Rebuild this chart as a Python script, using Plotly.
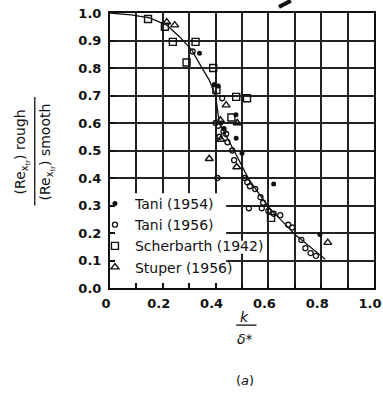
import plotly.graph_objects as go

# ---- data ----
curve_x = [0.0, 0.08, 0.15, 0.215, 0.264, 0.31, 0.346, 0.376, 0.40, 0.414, 0.464, 0.50, 0.526, 0.60, 0.70, 0.74, 0.815]
curve_y = [1.0, 0.993, 0.982, 0.956, 0.913, 0.865, 0.804, 0.756, 0.70, 0.60, 0.51, 0.44, 0.395, 0.295, 0.195, 0.164, 0.105]

tani54_x = [0.339, 0.395, 0.41, 0.477, 0.478, 0.50, 0.62, 0.795, 0.42, 0.432]
tani54_y = [0.854, 0.74, 0.735, 0.63, 0.545, 0.49, 0.378, 0.195, 0.60, 0.58]

tani56_x = [0.313, 0.425, 0.40, 0.41, 0.43, 0.44, 0.415, 0.445, 0.463, 0.47, 0.407, 0.51, 0.52,
            0.53, 0.55, 0.57, 0.58, 0.526, 0.575, 0.645, 0.675, 0.69, 0.725, 0.74, 0.76, 0.78, 0.60, 0.62]
tani56_y = [0.86, 0.69, 0.60, 0.59, 0.57, 0.56, 0.55, 0.53, 0.50, 0.465, 0.40, 0.40, 0.385,
            0.37, 0.36, 0.33, 0.31, 0.29, 0.29, 0.265, 0.23, 0.22, 0.175, 0.145, 0.127, 0.117, 0.28, 0.27]

scher_x = [0.144, 0.208, 0.238, 0.324, 0.29, 0.391, 0.403, 0.478, 0.519, 0.61, 0.46]
scher_y = [0.978, 0.95, 0.895, 0.895, 0.82, 0.80, 0.72, 0.695, 0.69, 0.255, 0.62]

stuper_x = [0.215, 0.245, 0.44, 0.482, 0.42, 0.376, 0.48, 0.825, 0.418]
stuper_y = [0.967, 0.956, 0.665, 0.60, 0.54, 0.47, 0.44, 0.165, 0.61]

x_ticks = [0, 0.2, 0.4, 0.6, 0.8, 1.0]
x_tick_text = ["0", "0.2", "0.4", "0.6", "0.8", "1.0"]
y_ticks = [0.0, 0.1, 0.2, 0.3, 0.4, 0.5, 0.6, 0.7, 0.8, 0.9, 1.0]

FONT = "DejaVu Sans"
INK = "#111111"
GRID = "#222222"

fig = go.Figure()
fig.add_trace(go.Scatter(x=curve_x, y=curve_y, mode="lines",
                         line=dict(color=INK, width=1.3), showlegend=False, hoverinfo="skip"))
fig.add_trace(go.Scatter(x=tani54_x, y=tani54_y, mode="markers", name="Tani (1954)",
                         marker=dict(symbol="circle", size=5, color=INK)))
fig.add_trace(go.Scatter(x=tani56_x, y=tani56_y, mode="markers", name="Tani (1956)",
                         marker=dict(symbol="circle-open", size=5, color=INK, line=dict(width=1.3))))
fig.add_trace(go.Scatter(x=scher_x, y=scher_y, mode="markers", name="Scherbarth (1942)",
                         marker=dict(symbol="square-open", size=7, color=INK, line=dict(width=1.4))))
fig.add_trace(go.Scatter(x=stuper_x, y=stuper_y, mode="markers", name="Stuper (1956)",
                         marker=dict(symbol="triangle-up-open", size=7, color=INK, line=dict(width=1.4))))

tick_font = dict(family=FONT, size=13, color=INK, weight="bold")
axis_common = dict(showline=True, linecolor=INK, linewidth=2, mirror=True,
                   showgrid=True, gridcolor=GRID, gridwidth=1.5,
                   ticks="inside", ticklen=5, tickcolor=INK, tickwidth=1.5,
                   zeroline=False, tickfont=tick_font, automargin=False)

fig.update_xaxes(range=[0, 1.0], tickvals=x_ticks, ticktext=x_tick_text,
                 minor=dict(dtick=0.1, showgrid=True, gridcolor=GRID, gridwidth=1.5,
                            ticks="inside", ticklen=5, tickcolor=INK),
                 ticklabelstandoff=2, ticklabelshift=-4, ticklabeloverflow="allow",
                 **axis_common)
fig.update_yaxes(range=[0, 1.0], tickvals=y_ticks, tickformat=".1f",
                 ticklabelstandoff=4, **axis_common)

ann_font = dict(family=FONT, size=14, color=INK)
annotations = [
    dict(text="(Re<sub>x<sub>tr</sub></sub>) rough", x=-0.335, y=0.495, textangle=-90),
    dict(text="(Re<sub>x<sub>tr</sub></sub>) smooth", x=-0.24, y=0.495, textangle=-90),
    dict(text="<i>k</i>", x=0.51, y=-0.105),
    dict(text="<i>δ</i>*", x=0.51, y=-0.185),
    dict(text="(<i>a</i>)", x=0.51, y=-0.335, font=dict(family=FONT, size=13, color=INK)),
]
for a in annotations:
    a.setdefault("font", ann_font)
    a.update(xref="paper", yref="paper", showarrow=False, xanchor="center", yanchor="middle")

shapes = [
    # white patches that hide the grid behind the legend (drawn between grid and data)
    dict(type="rect", xref="x", yref="y", x0=0, x1=0.44, y0=0, y1=0.345, layer="between",
         fillcolor="white", line=dict(width=0)),
    dict(type="rect", xref="x", yref="y", x0=0.44, x1=0.57, y0=0.125, y1=0.172, layer="between",
         fillcolor="white", line=dict(width=0)),
    dict(type="line", xref="paper", yref="paper", x0=-0.285, x1=-0.285, y0=0.30, y1=0.695,
         line=dict(color=INK, width=1.3)),
    dict(type="line", xref="paper", yref="paper", x0=0.478, x1=0.555, y0=-0.135, y1=-0.135,
         line=dict(color=INK, width=1.3)),
    dict(type="line", xref="paper", yref="paper", x0=0.685, x1=0.64, y0=1.045, y1=1.022,
         line=dict(color=INK, width=4)),
]

fig.update_layout(
    width=383, height=393,
    margin=dict(l=110, r=9, t=13, b=105, autoexpand=False),
    paper_bgcolor="white", plot_bgcolor="white",
    font=dict(family=FONT, size=14, color=INK),
    annotations=annotations, shapes=shapes,
    legend=dict(x=-0.057, y=0.364, xanchor="left", yanchor="top",
                bgcolor="rgba(0,0,0,0)", borderwidth=0, tracegroupgap=0,
                font=dict(family=FONT, size=14, color=INK),
                itemwidth=30),
)

fig.write_html("out.html")
